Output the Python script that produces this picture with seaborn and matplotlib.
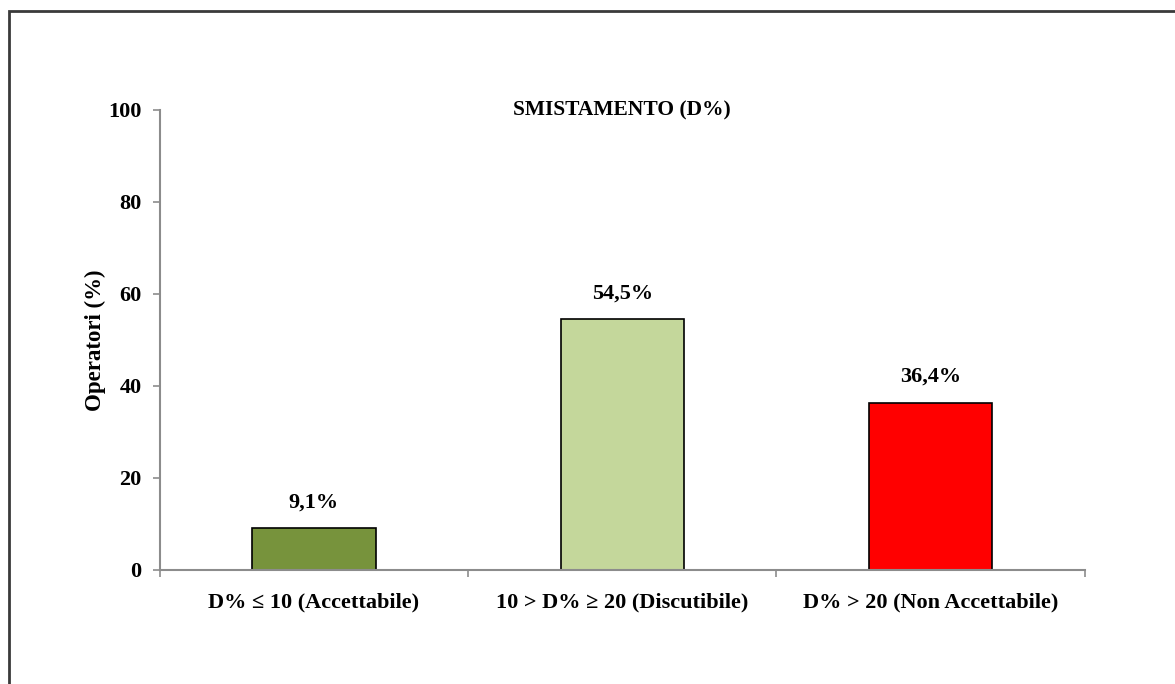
import matplotlib
matplotlib.use("Agg")
import matplotlib.pyplot as plt
from matplotlib.patches import Rectangle
import seaborn as sns
import pandas as pd

categories = ["D% \u2264 10 (Accettabile)", "10 > D% \u2265 20 (Discutibile)", "D% > 20 (Non Accettabile)"]
values = [9.1, 54.5, 36.4]
colors = ["#77933C", "#C4D79B", "#FF0000"]
yticks = [0, 20, 40, 60, 80, 100]
title = "SMISTAMENTO (D%)"
ylabel = "Operatori (%)"

sns.set_style("white")
plt.rcParams["font.family"] = ["Liberation Serif", "DejaVu Serif"]
plt.rcParams["font.weight"] = "bold"
plt.rcParams["text.color"] = "black"
plt.rcParams["axes.labelcolor"] = "black"
plt.rcParams["xtick.labelcolor"] = "black"
plt.rcParams["ytick.labelcolor"] = "black"

df = pd.DataFrame({"cat": categories, "val": values})

fig = plt.figure(figsize=(11.75, 6.84), dpi=100)
ax = fig.add_axes([0.136, 0.1667, 0.787, 0.6725])

sns.barplot(data=df, x="cat", y="val", hue="cat", palette=colors, legend=False,
            width=0.4, edgecolor="black", linewidth=1.2, saturation=1, ax=ax)

ax.set_xlim(-0.5, 2.5)
ax.set_ylim(0, 100)
ax.set_yticks(yticks)
ax.set_yticklabels([str(t) for t in yticks], fontsize=16, fontweight="bold")
ax.set_xticks(range(len(categories)))
ax.set_xticklabels(categories, fontsize=16, fontweight="bold")
ax.set_xticks([-0.5, 0.5, 1.5, 2.5], minor=True)
ax.tick_params(axis="x", which="major", bottom=True, length=0, pad=16)
ax.tick_params(axis="x", which="minor", bottom=True, length=5, width=1.2,
               color="#8c8c8c", direction="out")
ax.tick_params(axis="y", which="major", left=True, length=5, width=1.2,
               color="#8c8c8c", direction="out", pad=8)
ax.set_xlabel("")
ax.set_ylabel(ylabel, fontsize=16.5, fontweight="bold", labelpad=2)

for side in ["top", "right"]:
    ax.spines[side].set_visible(False)
for side in ["left", "bottom"]:
    ax.spines[side].set_color("#8c8c8c")
    ax.spines[side].set_linewidth(1.5)

for i, v in enumerate(values):
    ax.text(i, v + 5.6, f"{v:.1f}".replace(".", ",") + "%", ha="center", va="center",
            fontsize=16, fontweight="bold")

ax.text(0.5, 1.0, title, transform=ax.transAxes, ha="center", va="center",
        fontsize=15.5, fontweight="bold")

# outer frame around the chart area
fig.patches.append(Rectangle((9 / 1175, -0.05), 1.2, 1 - 11 / 684 + 0.05,
                             transform=fig.transFigure, fill=False,
                             edgecolor="#3a3a3a", linewidth=2))

fig.savefig("out.png", dpi=100)
